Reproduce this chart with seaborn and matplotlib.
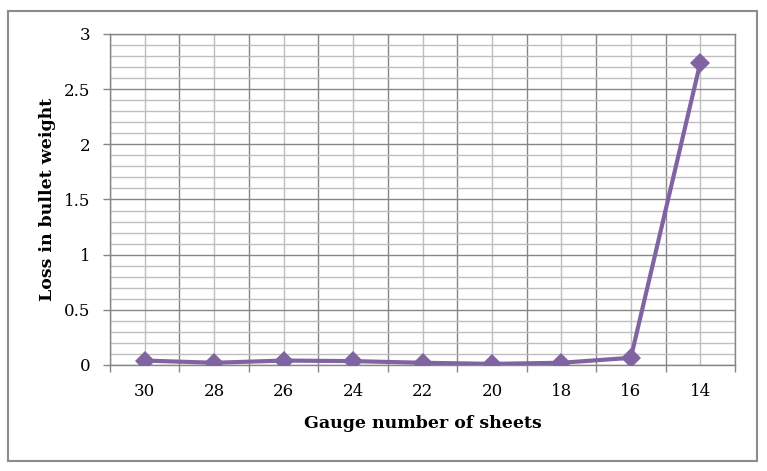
import numpy as np
import pandas as pd
import matplotlib
matplotlib.use("Agg")
import matplotlib.pyplot as plt
import seaborn as sns
from matplotlib.patches import Rectangle
from matplotlib.ticker import MultipleLocator, FixedLocator

gauges = ["30", "28", "26", "24", "22", "20", "18", "16", "14"]
loss = [0.04, 0.02, 0.04, 0.035, 0.02, 0.01, 0.02, 0.065, 2.74]

line_color = "#8064A2"
major_grid = "#868686"
minor_grid = "#BFBFBF"

sns.set_style("white")
plt.rcParams["font.family"] = ["DejaVu Serif"]
plt.rcParams["text.color"] = "black"
plt.rcParams["xtick.labelcolor"] = "black"
plt.rcParams["ytick.labelcolor"] = "black"
plt.rcParams["axes.labelcolor"] = "black"

df = pd.DataFrame({"pos": np.arange(len(gauges)), "loss": loss})

fig = plt.figure(figsize=(7.67, 4.71), dpi=100)
ax = fig.add_axes([0.1434, 0.2251, 0.8149, 0.7028])

sns.lineplot(data=df, x="pos", y="loss", ax=ax, color=line_color,
             linewidth=3, marker="D", markersize=10.5, markeredgewidth=0,
             zorder=5)

ax.set_xlim(-0.5, len(gauges) - 0.5)
ax.set_ylim(0, 3)

# x: labels at centres, tick marks at category boundaries
ax.xaxis.set_major_locator(FixedLocator(np.arange(len(gauges))))
ax.set_xticklabels(gauges)
ax.xaxis.set_minor_locator(FixedLocator(np.arange(len(gauges) + 1) - 0.5))
ax.tick_params(axis="x", which="major", length=0, pad=13, labelsize=12)
ax.tick_params(axis="x", which="minor", length=5, width=1, color=major_grid,
               direction="out", bottom=True)
ax.grid(True, axis="x", which="major", color=minor_grid, linewidth=1)
ax.grid(True, axis="x", which="minor", color=major_grid, linewidth=1)

# y: major every 0.5, minor every 0.1
ax.set_yticks(np.arange(0, 3.01, 0.5))
ax.set_yticklabels(["0", "0.5", "1", "1.5", "2", "2.5", "3"])
ax.yaxis.set_minor_locator(MultipleLocator(0.1))
ax.tick_params(axis="y", which="major", length=5, width=1, color=major_grid,
               direction="out", left=True, pad=9, labelsize=12)
ax.tick_params(axis="y", which="minor", length=0)
ax.grid(True, axis="y", which="major", color=major_grid, linewidth=1)
ax.grid(True, axis="y", which="minor", color=minor_grid, linewidth=1)
ax.set_axisbelow(True)

for s in ax.spines.values():
    s.set_color(major_grid)
    s.set_linewidth(1)

ax.set_xlabel("Gauge number of sheets", fontsize=12.5, fontweight="bold",
              labelpad=11)
ax.set_ylabel("Loss in bullet weight", fontsize=12.5, fontweight="bold",
              labelpad=6)

fig.patches.append(Rectangle((8 / 767, 1 - 461 / 471), 749 / 767, 450 / 471,
                             transform=fig.transFigure, fill=False,
                             edgecolor="#8C8C8C", linewidth=1.5))

fig.savefig("out.png", dpi=100)
